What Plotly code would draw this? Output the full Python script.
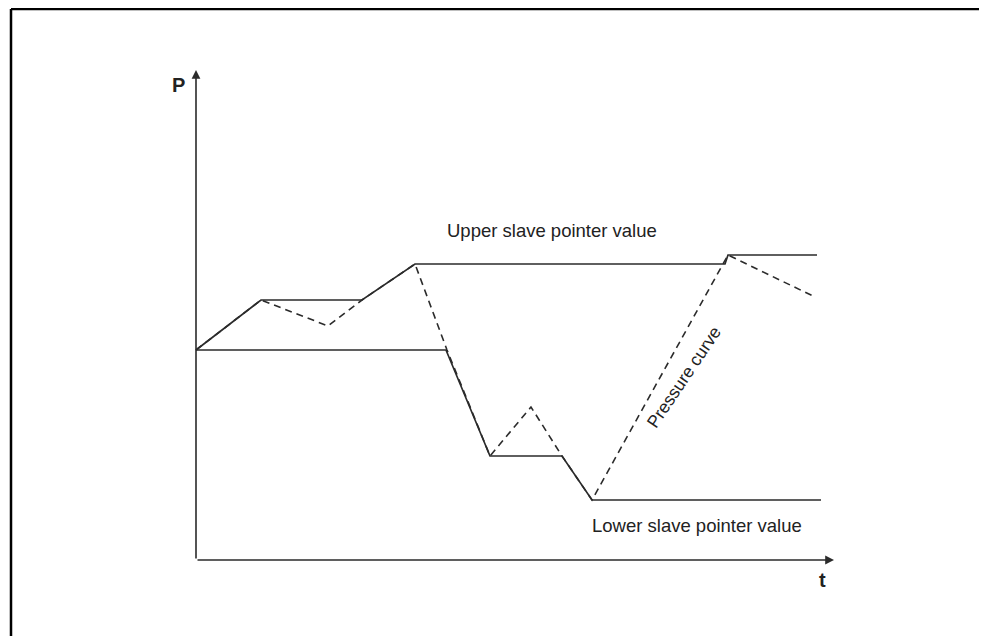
import plotly.graph_objects as go

# Slave pointer diagram (t, P in arbitrary units)
upper_t = [0, 65, 166, 219, 529, 532, 621]
upper_p = [210, 260, 260, 296, 296, 305, 305]

lower_t = [0, 250, 294, 366, 396, 625]
lower_p = [210, 210, 104, 104, 60, 60]

pressure_t = [0, 65, 132, 166, 219, 251, 294, 335, 366, 396, 532, 619]
pressure_p = [210, 260, 234, 260, 296, 210, 104, 153, 104, 60, 305, 263]

axis_t_end = 638
axis_p_end = 490

# page body has an 8px margin on every side; keep the figure inside the window
W, H = 971, 628
ox, oy = 188, 552  # origin in figure pixels
ink = "#2b2b2b"

fig = go.Figure()

fig.add_trace(go.Scatter(x=upper_t, y=upper_p, mode="lines",
                         line=dict(color=ink, width=1.7), hoverinfo="skip"))
fig.add_trace(go.Scatter(x=lower_t, y=lower_p, mode="lines",
                         line=dict(color=ink, width=1.7), hoverinfo="skip"))
fig.add_trace(go.Scatter(x=pressure_t, y=pressure_p, mode="lines",
                         line=dict(color=ink, width=1.6, dash="7px,5px"),
                         hoverinfo="skip"))

# axes drawn as arrows
fig.add_annotation(x=axis_t_end, y=0, ax=0, ay=0, xref="x", yref="y",
                   axref="x", ayref="y", showarrow=True, arrowhead=2,
                   arrowsize=1.1, arrowwidth=1.6, arrowcolor=ink, text="")
fig.add_annotation(x=0, y=axis_p_end, ax=0, ay=0, xref="x", yref="y",
                   axref="x", ayref="y", showarrow=True, arrowhead=2,
                   arrowsize=1.1, arrowwidth=1.6, arrowcolor=ink, text="")

lab = dict(family="Liberation Sans, Arial, sans-serif", color="#222222")
fig.add_annotation(x=-18, y=475, text="<b>P</b>", showarrow=False,
                   font=dict(size=20, **lab))
fig.add_annotation(x=626, y=-20, text="<b>t</b>", showarrow=False,
                   font=dict(size=20, **lab))
fig.add_annotation(x=356, y=330, text="Upper slave pointer value",
                   showarrow=False, font=dict(size=18.5, **lab))
fig.add_annotation(x=501, y=35, text="Lower slave pointer value",
                   showarrow=False, font=dict(size=18.5, **lab))
fig.add_annotation(x=488, y=183, text="Pressure curve", textangle=-56,
                   showarrow=False, font=dict(size=17.5, **lab))

# frame: only the top and left edges fall inside the picture
frame = dict(color="black", width=2.5)
fig.add_shape(type="line", xref="paper", yref="paper",
              x0=3 / W, x1=1, y0=1 - 1 / H, y1=1 - 1 / H, line=frame)
fig.add_shape(type="line", xref="paper", yref="paper",
              x0=3 / W, x1=3 / W, y0=0, y1=1 - 1 / H, line=frame)

fig.update_layout(
    width=W, height=H,
    margin=dict(l=0, r=0, t=0, b=0),
    showlegend=False,
    plot_bgcolor="white", paper_bgcolor="white",
    xaxis=dict(visible=False, range=[-ox, W - ox]),
    yaxis=dict(visible=False, range=[-(H - oy), oy]),
)

fig.write_html("out.html")
